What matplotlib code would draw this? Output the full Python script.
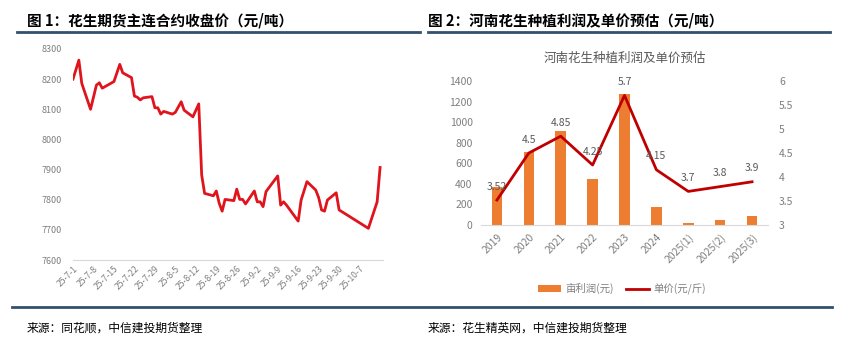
import matplotlib
matplotlib.use("Agg")
import matplotlib.pyplot as plt
import pandas as pd
from matplotlib.lines import Line2D
from matplotlib.patches import Patch

plt.rcParams['font.family'] = ['Noto Sans CJK SC', 'DejaVu Sans']

# ---- chart 1: peanut futures main contract close (yuan/ton)
dates = [
    "2025-07-01", "2025-07-03", "2025-07-04", "2025-07-07", "2025-07-09", "2025-07-10",
    "2025-07-11", "2025-07-15", "2025-07-17", "2025-07-18", "2025-07-21", "2025-07-22",
    "2025-07-23", "2025-07-24", "2025-07-25", "2025-07-28", "2025-07-29", "2025-07-30",
    "2025-07-31", "2025-08-01", "2025-08-04", "2025-08-05", "2025-08-07", "2025-08-08",
    "2025-08-11", "2025-08-13", "2025-08-14", "2025-08-15", "2025-08-18", "2025-08-19",
    "2025-08-20", "2025-08-21", "2025-08-22", "2025-08-25", "2025-08-26", "2025-08-27",
    "2025-08-28", "2025-08-29", "2025-09-01", "2025-09-02", "2025-09-03", "2025-09-04",
    "2025-09-05", "2025-09-09", "2025-09-10", "2025-09-11", "2025-09-12", "2025-09-16",
    "2025-09-17", "2025-09-19", "2025-09-22", "2025-09-23", "2025-09-24", "2025-09-25",
    "2025-09-26", "2025-09-29", "2025-09-30", "2025-10-10", "2025-10-13", "2025-10-14",
]
close = [
    8200, 8263, 8186, 8100, 8180, 8188,
    8170, 8192, 8249, 8221, 8205, 8144,
    8140, 8131, 8138, 8142, 8105, 8105,
    8084, 8093, 8084, 8090, 8125, 8097,
    8075, 8118, 7882, 7821, 7813, 7829,
    7788, 7762, 7801, 7797, 7835, 7801,
    7801, 7786, 7829, 7793, 7793, 7777,
    7827, 7879, 7782, 7793, 7782, 7729,
    7799, 7860, 7832, 7807, 7766, 7762,
    7799, 7823, 7766, 7705, 7793, 7907,
]
tick_dates = ["2025-07-01", "2025-07-08", "2025-07-15", "2025-07-22", "2025-07-29",
              "2025-08-05", "2025-08-12", "2025-08-19", "2025-08-26", "2025-09-02",
              "2025-09-09", "2025-09-16", "2025-09-23", "2025-09-30", "2025-10-07"]
tick_labels = ["25-7-1", "25-7-8", "25-7-15", "25-7-22", "25-7-29", "25-8-5", "25-8-12",
               "25-8-19", "25-8-26", "25-9-2", "25-9-9", "25-9-16", "25-9-23", "25-9-30",
               "25-10-7"]

# ---- chart 2: Henan peanut planting profit and unit price
years = ["2019", "2020", "2021", "2022", "2023", "2024", "2025(1)", "2025(2)", "2025(3)"]
profit = [372, 711, 912, 446, 1278, 172, 20, 48, 87]
price = [3.52, 4.5, 4.85, 4.25, 5.7, 4.15, 3.7, 3.8, 3.9]
price_labels = ["3.52", "4.5", "4.85", "4.25", "5.7", "4.15", "3.7", "3.8", "3.9"]

W, H = 844, 349
fig = plt.figure(figsize=(W / 100, H / 100), dpi=100)

navy = "#34506e"
gray = "#7f7f7f"

# header / footer text and rules
fig.text(27 / W, 1 - 20 / H, "图 1：花生期货主连合约收盘价（元/吨）", fontsize=10.5,
         fontweight='bold', va='center', ha='left')
fig.text(428 / W, 1 - 20 / H, "图 2：河南花生种植利润及单价预估（元/吨）", fontsize=10.5,
         fontweight='bold', va='center', ha='left')
fig.add_artist(Line2D([17 / W, 420 / W], [1 - 32 / H] * 2, color=navy, lw=2))
fig.add_artist(Line2D([428 / W, 830 / W], [1 - 32 / H] * 2, color=navy, lw=2))
fig.add_artist(Line2D([12 / W, 832 / W], [1 - 307 / H] * 2, color=navy, lw=2))
fig.text(27 / W, 1 - 328 / H, "来源：同花顺，中信建投期货整理", fontsize=8.5,
         style='italic', va='center', ha='left')
fig.text(428 / W, 1 - 328 / H, "来源：花生精英网，中信建投期货整理", fontsize=8.5,
         style='italic', va='center', ha='left')

# ---- left chart
ax1 = fig.add_axes([73 / W, 1 - 260 / H, (383 - 73) / W, (260 - 49) / H])
ax1.plot(pd.to_datetime(dates), close, color="#e0141c", lw=2)
ax1.set_ylim(7600, 8300)
ax1.set_yticks(range(7600, 8301, 100))
ax1.set_xlim(pd.Timestamp("2025-07-01"), pd.Timestamp("2025-10-15"))
ax1.set_xticks(pd.to_datetime(tick_dates))
ax1.set_xticklabels(tick_labels, rotation=45, ha='right', rotation_mode='anchor')
ax1.tick_params(axis='x', labelsize=6.2, labelcolor=gray, length=0, pad=3)
ax1.tick_params(axis='y', labelsize=6.5, labelcolor=gray, length=0, pad=8)
for s in ['top', 'right', 'left']:
    ax1.spines[s].set_visible(False)
ax1.spines['bottom'].set_color("#d9d9d9")

# ---- right chart
ax2 = fig.add_axes([481 / W, 1 - 225 / H, (768 - 481) / W, (225 - 81) / H])
x = range(len(years))
ax2.bar(x, profit, width=0.33, color="#ed7d31", zorder=2)
ax2.set_ylim(0, 1400)
ax2.set_yticks(range(0, 1401, 200))
ax2.set_xlim(-0.5, len(years) - 0.5)
ax2.set_xticks(list(x))
ax2.set_xticklabels(years, rotation=45, ha='right', rotation_mode='anchor')
ax2.tick_params(axis='x', labelsize=7.5, labelcolor=gray, length=0, pad=5)
ax2.tick_params(axis='y', labelsize=7.5, labelcolor=gray, length=0, pad=6)
for s in ['top', 'right', 'left']:
    ax2.spines[s].set_visible(False)
ax2.spines['bottom'].set_color("#d9d9d9")

ax3 = ax2.twinx()
ax3.plot(list(x), price, color="#c00000", lw=2, zorder=3)
ax3.set_ylim(3, 6)
ax3.set_yticks([3, 3.5, 4, 4.5, 5, 5.5, 6])
ax3.set_yticklabels(["3", "3.5", "4", "4.5", "5", "5.5", "6"])
ax3.tick_params(axis='y', labelsize=7.5, labelcolor=gray, length=0, pad=8)
for s in ['top', 'right', 'left', 'bottom']:
    ax3.spines[s].set_visible(False)
for xi, p, lab in zip(x, price, price_labels):
    ax3.annotate(lab, (xi, p), xytext=(0, 6), textcoords='offset points',
                 ha='center', va='bottom', fontsize=7.5, color="#595959")

ax2.set_title("河南花生种植利润及单价预估", fontsize=9, color="#595959", pad=14)

handles = [Patch(facecolor="#ed7d31"), Line2D([], [], color="#c00000", lw=2)]
fig.legend(handles, ["亩利润(元)", "单价(元/斤)"], loc='center',
           bbox_to_anchor=(622 / W, 1 - 289 / H), ncol=2, frameon=False,
           fontsize=7.5, labelcolor=gray, handlelength=2.2, columnspacing=1.2,
           handletextpad=0.4)

fig.savefig("out.png", dpi=100, facecolor='white')
